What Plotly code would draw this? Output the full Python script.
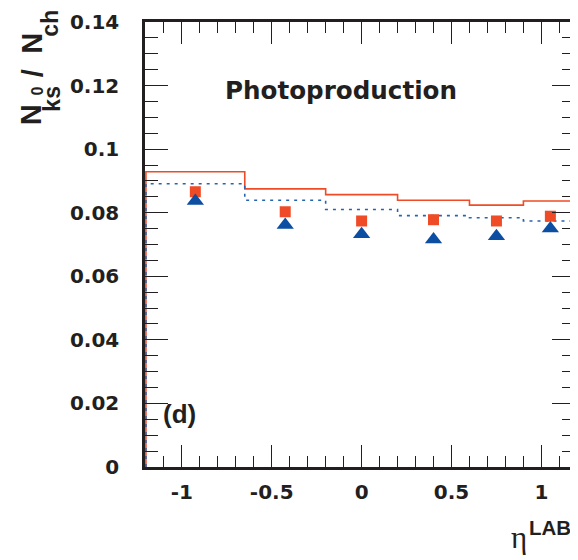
import plotly.graph_objects as go

# ---- data ----
bin_edges = [-1.2, -0.65, -0.2, 0.2, 0.6, 0.9, 1.2]
bin_centers = [-0.925, -0.425, 0.0, 0.4, 0.75, 1.05]
mc_solid = [0.0929, 0.0875, 0.0857, 0.0839, 0.0824, 0.0837]
mc_dotted = [0.0891, 0.0839, 0.0810, 0.0791, 0.0784, 0.0774]
data_squares = [0.0866, 0.0803, 0.0774, 0.0778, 0.0774, 0.0789]
data_triangles = [0.0837, 0.0761, 0.0732, 0.0716, 0.0726, 0.0750]

x_tick_vals = [-1, -0.5, 0, 0.5, 1]
x_tick_text = ["-1", "-0.5", "0", "0.5", "1"]
y_tick_vals = [0, 0.02, 0.04, 0.06, 0.08, 0.1, 0.12, 0.14]
y_tick_text = ["0", "0.02", "0.04", "0.06", "0.08", "0.1", "0.12", "0.14"]

RED = "#EE4B26"
BLUE = "#0B4EA2"
BLUE_LINE = "#2464B4"
INK = "#231F20"


def step_xy(edges, values):
    xs = [edges[0]] + list(edges) + [edges[-1]]
    ys = [0] + list(values) + [values[-1], 0]
    return xs, ys


fig = go.Figure()
sx, sy = step_xy(bin_edges, mc_solid)
fig.add_trace(go.Scatter(x=sx, y=sy, mode="lines", line=dict(color=RED, width=1.6, shape="hv"),
                         hoverinfo="skip"))
dx, dy = step_xy(bin_edges, mc_dotted)
fig.add_trace(go.Scatter(x=dx, y=dy, mode="lines",
                         line=dict(color=BLUE_LINE, width=1.6, shape="hv", dash="3px,5px"),
                         hoverinfo="skip"))
fig.add_trace(go.Scatter(x=bin_centers, y=data_squares, mode="markers",
                         marker=dict(symbol="square", size=11, color=RED, line=dict(width=0)),
                         cliponaxis=False))
fig.add_trace(go.Scatter(x=bin_centers, y=data_triangles, mode="markers",
                         marker=dict(symbol="triangle-up", size=15, color=BLUE, line=dict(width=0)),
                         cliponaxis=False))

tickfont = dict(family="DejaVu Sans", size=20, color=INK, weight="bold")

# page is drawn with an 8px body margin; the figure is sized/offset for that
fig.update_layout(
    width=570, height=552,
    margin=dict(l=137, r=0, t=14, b=93),
    plot_bgcolor="white", paper_bgcolor="white",
    showlegend=False,
    xaxis=dict(
        range=[-1.205, 1.187],
        tickmode="array", tickvals=x_tick_vals, ticktext=x_tick_text,
        ticks="inside", ticklen=22, tickwidth=1.2, tickcolor=INK,
        showline=True, linewidth=2.5, linecolor=INK, mirror="ticks",
        showgrid=False, zeroline=False,
        tickfont=tickfont, ticklabelstandoff=5,
        minor=dict(dtick=0.1, tick0=0, ticks="inside", ticklen=11, tickwidth=1.2,
                   tickcolor=INK, showgrid=False),
    ),
    yaxis=dict(
        range=[0, 0.14],
        tickmode="array", tickvals=y_tick_vals, ticktext=y_tick_text,
        ticks="inside", ticklen=23, tickwidth=1.2, tickcolor=INK,
        showline=True, linewidth=2.5, linecolor=INK, mirror="ticks",
        showgrid=False, zeroline=False,
        tickfont=tickfont, ticklabelstandoff=19,
        minor=dict(dtick=0.005, tick0=0, ticks="inside", ticklen=13, tickwidth=1.2,
                   tickcolor=INK, showgrid=False),
    ),
)

# page-pixel -> paper coordinates (plot area spans page x 145..578, y 22..467)
W, H = 433.0, 445.0
L, T = 145.0, 22.0


def px(xp):
    return (xp - L) / W


def py(yp):
    return (T + H - yp) / H


BOLD = dict(family="Liberation Sans", color=INK, weight="bold")

ann = [
    dict(text="Photoproduction", x=px(342), y=py(91),
         font=dict(family="DejaVu Sans", size=24.6, color=INK, weight="bold")),
    dict(text="(d)", x=px(179.7), y=py(414.3), font=dict(BOLD, size=26)),
    dict(text="LAB", x=px(530), y=py(527), xanchor="left", font=dict(BOLD, size=20.5)),
    dict(text="\u03b7", x=px(522), y=py(537), font=dict(family="Liberation Serif", size=31, color=INK)),
    # y-axis title, rotated, built piece by piece
    dict(text="N", x=px(31), y=py(114.5), textangle=-90, font=dict(BOLD, size=29)),
    dict(text="ks", x=px(51), y=py(99), textangle=-90, font=dict(BOLD, size=23)),
    dict(text="0", x=px(36.8), y=py(91), textangle=-90, font=dict(BOLD, size=16)),
    dict(text="/", x=px(33), y=py(73.5), textangle=-90, font=dict(BOLD, size=29)),
    dict(text="N", x=px(31), y=py(43), textangle=-90, font=dict(BOLD, size=29)),
    dict(text="ch", x=px(49), y=py(23), textangle=-90, font=dict(BOLD, size=23)),
]
for a in ann:
    a.setdefault("xanchor", "center")
    a.setdefault("yanchor", "middle")
    a.update(xref="paper", yref="paper", showarrow=False)
fig.update_layout(annotations=ann)

fig.write_html("out.html")
